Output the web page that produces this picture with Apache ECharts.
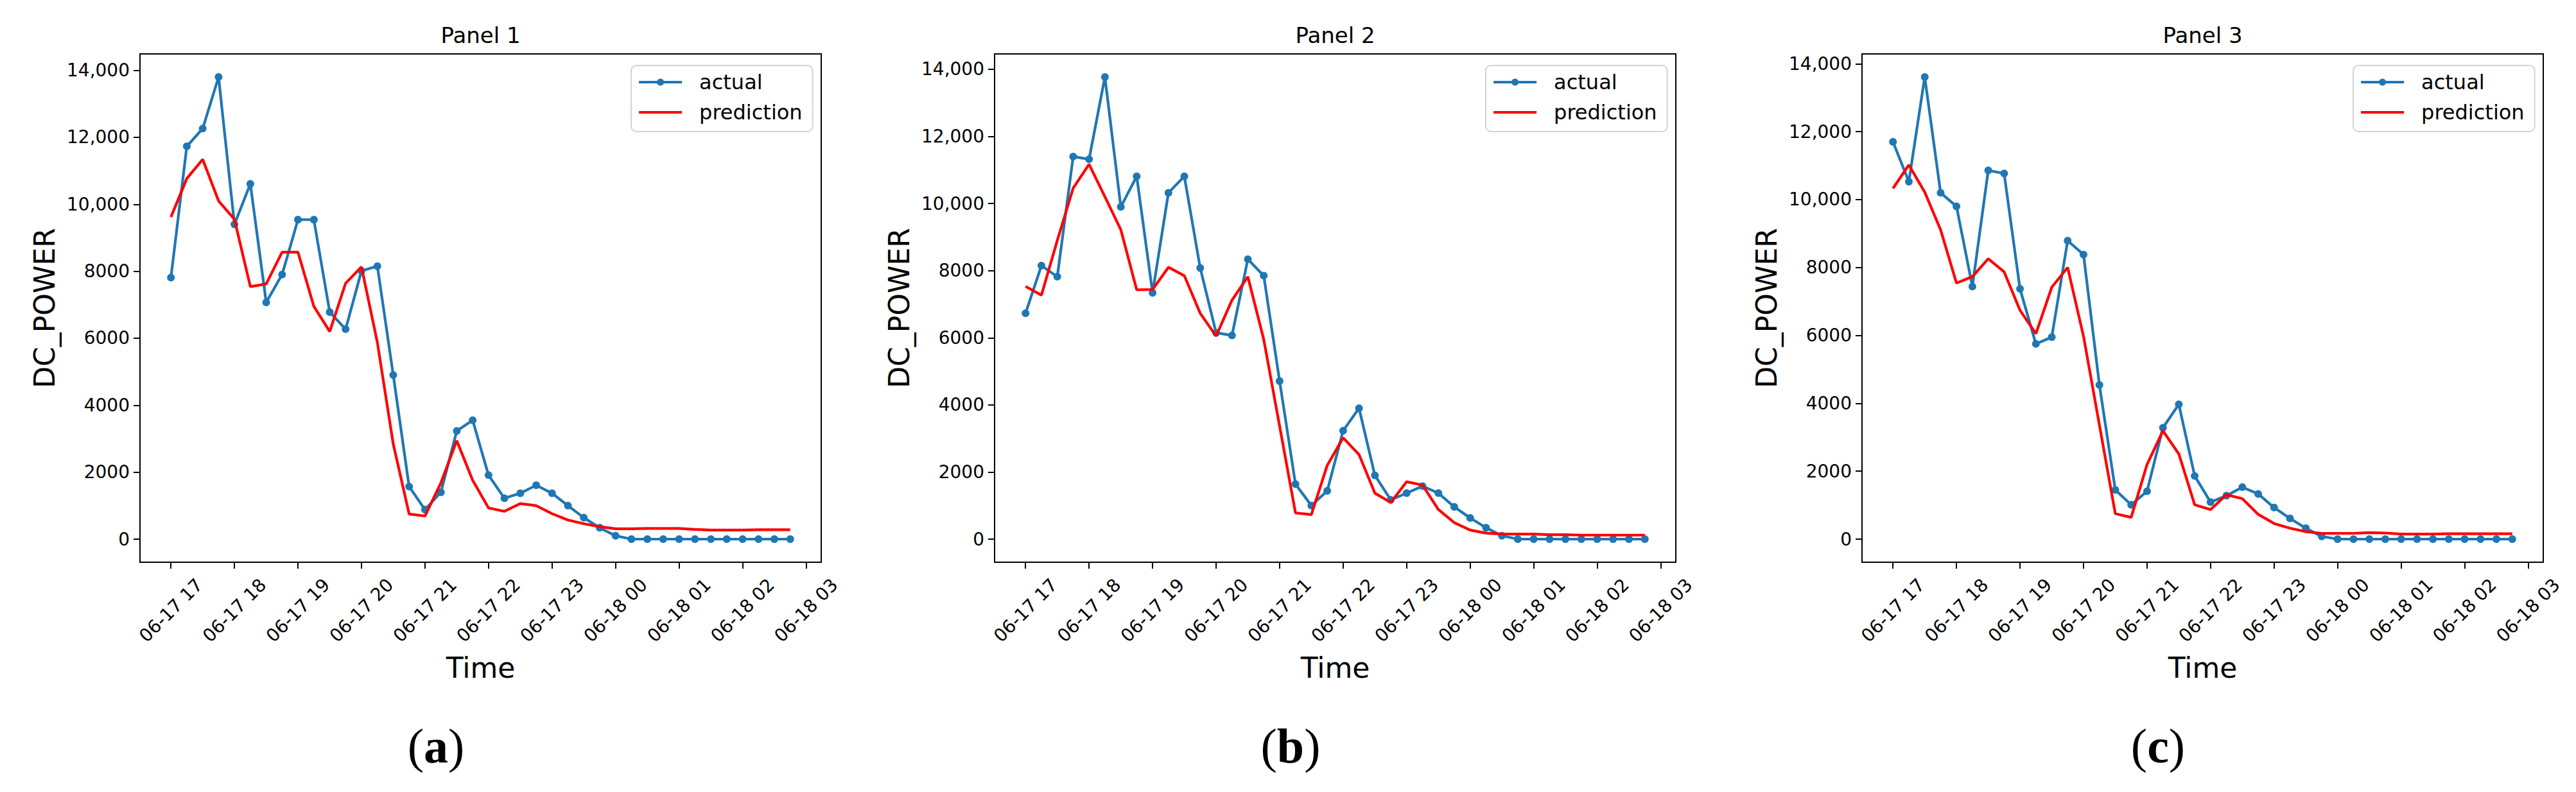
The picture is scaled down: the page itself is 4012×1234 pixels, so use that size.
<!DOCTYPE html>
<html><head><meta charset="utf-8">
<script src="https://cdn.jsdelivr.net/npm/echarts@6/dist/echarts.min.js"></script>
<style>html,body{margin:0;padding:0;background:#fff}#c{width:4012px;height:1234px}</style>
</head><body><div id="c"></div>
<script>
// ---------- data ----------
const times = [
  '06-17 17:00','06-17 17:15','06-17 17:30','06-17 17:45',
  '06-17 18:00','06-17 18:15','06-17 18:30','06-17 18:45',
  '06-17 19:00','06-17 19:15','06-17 19:30','06-17 19:45',
  '06-17 20:00','06-17 20:15','06-17 20:30','06-17 20:45',
  '06-17 21:00','06-17 21:15','06-17 21:30','06-17 21:45',
  '06-17 22:00','06-17 22:15','06-17 22:30','06-17 22:45',
  '06-17 23:00','06-17 23:15','06-17 23:30','06-17 23:45',
  '06-18 00:00','06-18 00:15','06-18 00:30','06-18 00:45',
  '06-18 01:00','06-18 01:15','06-18 01:30','06-18 01:45',
  '06-18 02:00','06-18 02:15','06-18 02:30','06-18 02:45'
];
const xTickLabels = ['06-17 17','06-17 18','06-17 19','06-17 20','06-17 21','06-17 22',
                     '06-17 23','06-18 00','06-18 01','06-18 02','06-18 03'];
const yTickValues = [0, 2000, 4000, 6000, 8000, 10000, 12000, 14000];
const yTickLabels = ['0','2000','4000','6000','8000','10,000','12,000','14,000'];
const panelTitles = ['Panel 1','Panel 2','Panel 3'];
const captionLetters = ['a','b','c'];
const seriesNames = ['actual','prediction'];
const yAxisTitle = 'DC_POWER';
const xAxisTitle = 'Time';

const actual1 = [7810,11730,12260,13800,9400,10610,7070,7900,9540,9540,6780,6270,8010,8150,4900,1570,
  880,1400,3230,3550,1910,1220,1370,1610,1370,1000,640,340,100,0,0,0,0,0,0,0,0,0,0,0];
const prediction1 = [9620,10770,11340,10100,9550,7540,7620,8570,8570,6950,6200,7640,8130,5870,2840,750,
  690,1680,2940,1760,930,830,1060,1000,760,570,460,370,310,310,320,320,320,290,270,270,270,280,280,280];

const actual2 = [6730,8150,7820,11400,11320,13770,9900,10810,7340,10320,10810,8080,6150,6070,8340,7850,
  4710,1640,1000,1440,3230,3900,1900,1170,1370,1580,1370,960,630,340,100,0,0,0,0,0,0,0,0,0];
const prediction2 = [7530,7270,8900,10460,11170,10200,9220,7430,7440,8100,7850,6730,6050,7120,7820,5950,
  3370,780,730,2200,3020,2520,1370,1090,1710,1610,880,490,270,180,150,150,150,130,130,120,120,120,120,120];

const actual3 = [11700,10530,13610,10200,9800,7440,10860,10770,7370,5750,5950,8790,8380,4540,1450,1010,
  1410,3280,3970,1860,1090,1280,1530,1330,930,610,320,80,0,0,0,0,0,0,0,0,0,0,0,0];
const prediction3 = [10330,11020,10220,9110,7540,7730,8260,7870,6740,6050,7420,8000,5970,3360,750,640,
  2200,3190,2510,1010,870,1310,1190,730,460,320,220,170,170,170,190,180,150,150,150,160,160,160,160,160];

const panels = [
  {actual: actual1, prediction: prediction1},
  {actual: actual2, prediction: prediction2},
  {actual: actual3, prediction: prediction3}
];

// ---------- helpers ----------
function hoursSince(t) { // 'MM-DD HH:MM' -> hours since 06-17 17:00
  const day = +t.slice(3,5), hh = +t.slice(6,8), mm = t.length > 8 ? +t.slice(9,11) : 0;
  return (day - 17) * 24 + hh + mm / 60 - 17;
}
const xs = times.map(hoursSince);
const xTickPos = xTickLabels.map(hoursSince);
const xSpan = xs[xs.length-1] - xs[0];
const xMin = xs[0] - 0.05 * xSpan, xMax = xs[xs.length-1] + 0.05 * xSpan;

const FONT = 'DejaVu Sans';
const BLUE = '#1f77b4', RED = '#ff0000';
const gridLefts = [218, 1549, 2900];
const gridW = 1061, gridTop = 84, gridH = 792;
const captionX = [679, 2010, 3361];

const grid = [], xAxis = [], yAxis = [], series = [], legend = [], graphic = [];
panels.forEach((p, i) => {
  const left = gridLefts[i];
  grid.push({left: left, top: gridTop, width: gridW, height: gridH, show: true,
             borderColor: '#000', borderWidth: 2, backgroundColor: '#fff'});
  xAxis.push({
    type: 'value', gridIndex: i, min: xMin, max: xMax,
    name: xAxisTitle, nameLocation: 'middle', nameGap: 142,
    nameTextStyle: {fontFamily: FONT, fontSize: 44, color: '#000'},
    axisLine: {show: true, onZero: false, lineStyle: {color: '#000', width: 2}},
    axisTick: {show: true, length: 10, lineStyle: {color: '#000', width: 2}, customValues: xTickPos},
    axisLabel: {show: true, customValues: xTickPos, rotate: 45, align: 'center', verticalAlign: 'middle',
                margin: 75, fontFamily: FONT, fontSize: 28, color: '#000',
                formatter: v => { const k = xTickPos.findIndex(q => Math.abs(q - v) < 1e-6); return k >= 0 ? xTickLabels[k] : ''; }},
    splitLine: {show: false}
  });
  const maxV = Math.max(...p.actual, ...p.prediction);
  const minV = Math.min(...p.actual, ...p.prediction);
  const span = maxV - minV;
  yAxis.push({
    type: 'value', gridIndex: i, min: minV - 0.05 * span, max: maxV + 0.05 * span,
    name: yAxisTitle, nameLocation: 'middle', nameGap: 127,
    nameTextStyle: {fontFamily: FONT, fontSize: 44, color: '#000'},
    axisLine: {show: true, onZero: false, lineStyle: {color: '#000', width: 2}},
    axisTick: {show: true, length: 10, lineStyle: {color: '#000', width: 2}, customValues: yTickValues},
    axisLabel: {show: true, customValues: yTickValues, margin: 16, fontFamily: FONT, fontSize: 28, color: '#000',
                formatter: v => { const k = yTickValues.indexOf(v); return k >= 0 ? yTickLabels[k] : ''; }},
    splitLine: {show: false}
  });
  series.push({
    name: seriesNames[0], type: 'line', xAxisIndex: i, yAxisIndex: i,
    data: xs.map((x, k) => [x, p.actual[k]]),
    symbol: 'circle', symbolSize: 12, showSymbol: true,
    lineStyle: {color: BLUE, width: 4.2}, itemStyle: {color: BLUE}, z: 2
  });
  series.push({
    name: seriesNames[1], type: 'line', xAxisIndex: i, yAxisIndex: i,
    data: xs.map((x, k) => [x, p.prediction[k]]),
    symbol: 'none', showSymbol: false,
    lineStyle: {color: RED, width: 4.2}, itemStyle: {color: RED}, z: 3
  });
  legend.push({
    data: [{name: seriesNames[0]},
           {name: seriesNames[1], itemStyle: {opacity: 0}, lineStyle: {color: RED, width: 4.2, opacity: 1}}],
    orient: 'vertical', left: left + 765, top: 102,
    itemWidth: 67, itemHeight: 14, itemGap: 15,
    lineStyle: {width: 4.2},
    backgroundColor: '#fff', borderColor: '#d3d3d3', borderWidth: 2, borderRadius: 8,
    padding: [10, 16, 14, 10],
    textStyle: {fontFamily: FONT, fontSize: 32, color: '#000', padding: [0, 0, 0, 22]},
    selectedMode: false
  });
  graphic.push({
    type: 'text', x: left + gridW / 2, y: 55,
    style: {text: panelTitles[i], fontFamily: FONT, fontSize: 34, fill: '#000', align: 'center', verticalAlign: 'middle'}
  });
  graphic.push({
    type: 'text', x: captionX[i], y: 1162,
    style: {
      text: '{p|(}{b|' + captionLetters[i] + '}{p|)}', align: 'center', verticalAlign: 'middle',
      rich: {
        p: {fontFamily: 'Liberation Serif', fontSize: 76, fill: '#000'},
        b: {fontFamily: 'Liberation Serif', fontSize: 76, fontWeight: 'bold', fill: '#000'}
      }
    }
  });
});

const chart = echarts.init(document.getElementById('c'), null, {renderer: 'svg', width: 4012, height: 1234});
chart.setOption({
  animation: false, backgroundColor: '#fff',
  grid, xAxis, yAxis, series, legend, graphic
});
</script></body></html>
